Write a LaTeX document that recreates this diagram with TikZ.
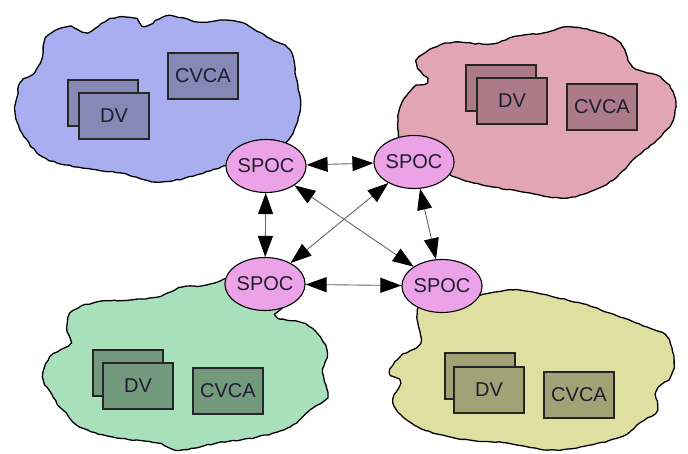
\documentclass[tikz,border=0pt]{standalone}
\usepackage{fontspec}
\setmainfont{Liberation Sans}
\usetikzlibrary{shapes.geometric,arrows.meta,decorations.pathmorphing}
\definecolor{cblue}{HTML}{A9AEF0}
\definecolor{bblue}{HTML}{8688B6}
\definecolor{cpink}{HTML}{E1A5B4}
\definecolor{bpink}{HTML}{AC7A88}
\definecolor{cgreen}{HTML}{A8E0BC}
\definecolor{bgreen}{HTML}{749A7E}
\definecolor{cyellow}{HTML}{E0DFA2}
\definecolor{byellow}{HTML}{A3A176}
\definecolor{spocfill}{HTML}{EBA2E6}
\definecolor{txt}{HTML}{1E1E30}
\pgfmathsetseed{7}
\tikzset{
  cloudline/.style={draw=black, line width=1.3pt, line join=round, decorate, decoration={random steps, segment length=4pt, amplitude=0.6pt}},
  boxnode/.style={draw=black!85, line width=1.1pt, rectangle, minimum width=70pt, minimum height=46pt, inner sep=0pt, font=\fontsize{20}{22}\selectfont, text=txt},
  spoc/.style={draw=black, line width=1.1pt, ellipse, fill=spocfill, minimum width=75pt, minimum height=53pt, inner sep=0pt, font=\fontsize{20}{22}\selectfont, text=txt},
  tipx/.tip={Triangle[length=21pt,width=15pt,color=black]},
  link/.style={draw=black!60, line width=0.9pt, tipx-tipx}
}
\begin{document}
\begin{tikzpicture}[x=1pt,y=-1pt]
\useasboundingbox (0,0) rectangle (688,453);
% clouds
\draw[cloudline, fill=cblue] plot[smooth cycle, tension=0.6] coordinates {
 (17,97) (21,82) (34,73) (42,58) (46,38) (67,27) (88,32) (110,19) (133,18) (145,26) (167,16) (200,22) (222,20) (243,23) (267,37) (290,50) (296,77) (300,110) (288,140) (270,142) (252,160) (233,163) (200,174) (160,182) (120,173) (77,167) (43,157) (22,133) (15,112)};
\draw[cloudline, fill=cpink] plot[smooth cycle, tension=0.6] coordinates {
 (420,57) (447,43) (490,44) (513,37) (543,33) (567,27) (597,32) (620,43) (633,67) (660,77) (674,95) (673,120) (657,140) (636,157) (613,180) (587,193) (560,198) (530,193) (493,187) (463,180) (447,173) (405,150) (398,120) (402,103) (413,88) (427,82) (418,68)};
\draw[cloudline, fill=cgreen] plot[smooth cycle, tension=0.6] coordinates {
 (240,278) (206,285) (183,287) (157,297) (130,300) (97,302) (73,311) (67,327) (70,343) (50,357) (43,377) (53,397) (63,410) (80,427) (113,437) (157,443) (180,450) (217,443) (257,437) (290,427) (310,410) (327,397) (323,373) (327,353) (320,337) (303,323) (277,317) (282,300)};
\draw[cloudline, fill=cyellow] plot[smooth cycle, tension=0.6] coordinates {
 (445,295) (467,297) (490,293) (513,290) (537,293) (567,300) (593,307) (620,317) (647,327) (667,337) (674,360) (670,377) (657,390) (657,410) (640,423) (620,437) (580,447) (547,450) (507,443) (470,440) (433,433) (407,420) (393,403) (400,383) (390,373) (400,357) (420,343) (417,317) (423,300)};
% boxes
\node[boxnode, fill=bblue] (dvb1) at (103,103) {};
\node[boxnode, fill=bblue] (dv1) at (114,116) {DV};
\node[boxnode, fill=bblue] (cv1) at (203,76) {CVCA};
\node[boxnode, fill=bpink] (dvb2) at (501,88) {};
\node[boxnode, fill=bpink] (dv2) at (512,101) {DV};
\node[boxnode, fill=bpink] (cv2) at (602,107) {CVCA};
\node[boxnode, fill=bgreen] (dvb3) at (128,373) {};
\node[boxnode, fill=bgreen] (dv3) at (138,386) {DV};
\node[boxnode, fill=bgreen] (cv3) at (228,391) {CVCA};
\node[boxnode, fill=byellow] (dvb4) at (480,376) {};
\node[boxnode, fill=byellow] (dv4) at (489,390) {DV};
\node[boxnode, fill=byellow] (cv4) at (579,395) {CVCA};
% spocs
\node[spoc] (tl) at (266,166) {SPOC};
\node[spoc] (tr) at (414,162) {SPOC};
\node[spoc] (bl) at (265,284) {SPOC};
\node[spoc] (br) at (442,286) {SPOC};
% links
\draw[link] (tl) -- (tr);
\draw[link] (tl) -- (bl);
\draw[link] (tr) -- (br);
\draw[link] (bl) -- (br);
\draw[link] (tl) -- (br);
\draw[link] (tr) -- (bl);
\end{tikzpicture}
\end{document}
